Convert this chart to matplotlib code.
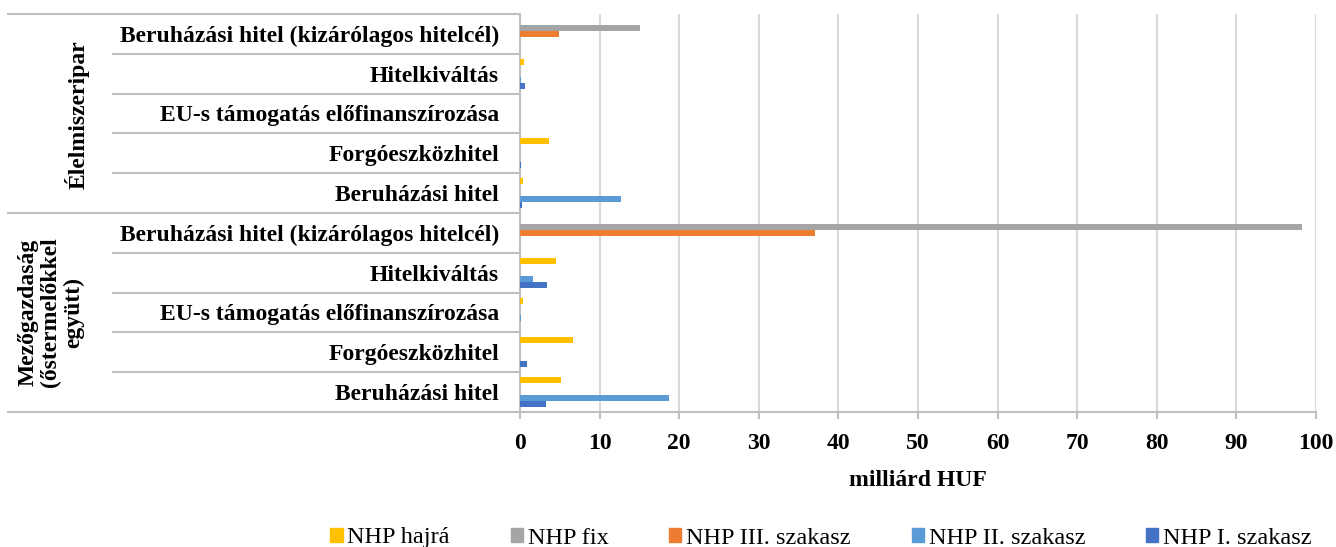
#!/usr/bin/env python3
import matplotlib.pyplot as plt
import matplotlib.transforms as mtransforms
from matplotlib.lines import Line2D
from matplotlib.patches import Patch
import numpy as np

plt.rcParams["font.family"] = ["Liberation Serif", "DejaVu Serif"]

# categories, bottom to top
categories = [
    "Beruházási hitel",
    "Forgóeszközhitel",
    "EU-s támogatás előfinanszírozása",
    "Hitelkiváltás",
    "Beruházási hitel (kizárólagos hitelcél)",
    "Beruházási hitel",
    "Forgóeszközhitel",
    "EU-s támogatás előfinanszírozása",
    "Hitelkiváltás",
    "Beruházási hitel (kizárólagos hitelcél)",
]
groups = ["Mezőgazdaság\n(őstermelőkkel\negyütt)", "Élelmiszeripar"]

# milliárd HUF, same order as categories
nhp_hajra = [5.1, 6.6, 0.35, 4.5, 0.0, 0.35, 3.6, 0.0, 0.45, 0.0]
nhp_fix = [0.0, 0.0, 0.0, 0.0, 98.2, 0.0, 0.0, 0.0, 0.0, 15.1]
nhp_3 = [0.0, 0.0, 0.0, 0.0, 37.0, 0.0, 0.0, 0.0, 0.0, 4.9]
nhp_2 = [18.7, 0.0, 0.1, 1.6, 0.0, 12.7, 0.0, 0.0, 0.15, 0.0]
nhp_1 = [3.3, 0.85, 0.0, 3.35, 0.0, 0.2, 0.1, 0.0, 0.65, 0.0]

series = [
    ("NHP hajrá", nhp_hajra, "#FFC000"),
    ("NHP fix", nhp_fix, "#A5A5A5"),
    ("NHP III. szakasz", nhp_3, "#ED7D31"),
    ("NHP II. szakasz", nhp_2, "#5B9BD5"),
    ("NHP I. szakasz", nhp_1, "#4472C4"),
]

W, H = 1336, 547
fig = plt.figure(figsize=(W / 100, H / 100), dpi=100)
ax = fig.add_axes([520 / W, 1 - 412 / H, (1316 - 520) / W, (412 - 14) / H])

y = np.arange(len(categories))
bh = 0.15
for i, (name, vals, color) in enumerate(series):
    offset = (2 - i) * bh
    ax.barh(y + offset, vals, height=bh, color=color, zorder=3)

ax.set_xlim(0, 100)
ax.set_ylim(-0.5, len(categories) - 0.5)
ax.set_xticks(np.arange(0, 101, 10))
ax.xaxis.grid(True, color="#d9d9d9", linewidth=1.5, zorder=0)
ax.set_axisbelow(True)
for s in ["top", "right"]:
    ax.spines[s].set_visible(False)
for s in ["left", "bottom"]:
    ax.spines[s].set_color("#bfbfbf")
    ax.spines[s].set_linewidth(1.5)
ax.tick_params(axis="x", length=5, width=1.5, color="#bfbfbf", labelsize=17, pad=10)
for lab in ax.get_xticklabels():
    lab.set_fontweight("bold")
ax.set_yticks(y)
ax.set_yticklabels(categories, fontsize=17, fontweight="bold")
ax.tick_params(axis="y", length=0, pad=15)
ax.set_xlabel("milliárd HUF", fontsize=17, fontweight="bold", labelpad=12)

# category table lines on the left
trans = mtransforms.blended_transform_factory(fig.transFigure, ax.transData)
for k in range(len(categories) + 1):
    yb = k - 0.5
    x0 = 8 / W if k in (0, 5, 10) else 113 / W
    ax.add_line(Line2D([x0, 520 / W], [yb, yb], transform=trans, color="#bfbfbf",
                       linewidth=1.5, clip_on=False))

fig.text(51 / W, 1 - 312 / H, groups[0], rotation=90, ha="center", va="center",
         fontsize=17, fontweight="bold", multialignment="center", linespacing=1.1)
fig.text(77 / W, 1 - 115 / H, groups[1], rotation=90, ha="center", va="center",
         fontsize=17, fontweight="bold")

handles = [Patch(color=c, label=n) for n, _, c in series]
fig.legend(handles=handles, loc="center", bbox_to_anchor=(821 / W, 1 - 538 / H),
           ncol=5, frameon=False, fontsize=17.5, handlelength=0.5, handleheight=0.5,
           handletextpad=0.2, columnspacing=2.5, borderpad=0)

fig.savefig("out.png", dpi=100)
